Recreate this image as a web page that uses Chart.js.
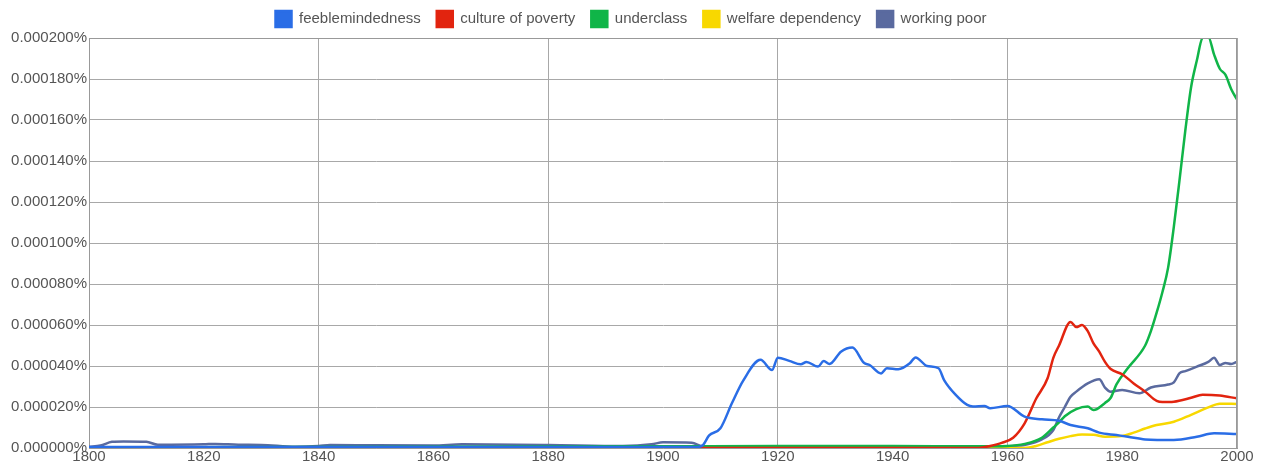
<!DOCTYPE html>
<html>
<head>
<meta charset="utf-8">
<script src="https://cdn.jsdelivr.net/npm/chart.js@4"></script>
<style>
    html, body { margin: 0; padding: 0; background: #fff; }
    #wrap { width: 1262px; height: 463px; }
</style>
</head>
<body>
<div id="wrap"><canvas id="ngramChart" width="1262" height="463"></canvas></div>
<script>
// values are in units of 0.000001 %
const feebleYears  = [1800, 1850, 1900, 1906, 1907, 1908, 1910, 1912, 1914, 1917, 1919, 1920, 1922, 1924, 1925, 1927, 1928, 1929, 1931, 1933, 1935, 1936, 1938, 1939, 1941, 1943, 1944, 1946, 1948, 1949, 1951, 1953, 1954, 1956, 1957, 1960, 1963, 1966, 1969, 1971, 1974, 1976, 1979, 1981, 1984, 1989, 1993, 1996, 2000];
const feebleValues = [0.5, 0.5, 0.5, 0.5, 1.5, 6, 9.6, 21.8, 33, 43, 38, 44, 42.5, 40.8, 42, 39.7, 42.4, 41, 47, 49, 41.6, 40.5, 36.4, 38.9, 38.4, 41.3, 44.2, 40, 38.9, 33, 25.9, 21, 20.2, 20.5, 19.4, 20.5, 15.3, 14, 13.3, 11.2, 9.6, 7.5, 6.3, 5.5, 4.2, 3.9, 5.5, 7.2, 6.8];

const povertyYears  = [1800, 1955, 1957, 1959, 1961, 1963, 1965, 1967, 1968, 1969, 1971, 1972, 1973, 1974, 1975, 1976, 1977, 1978, 1980, 1982, 1984, 1986, 1987, 1989, 1992, 1994, 1997, 2000];
const povertyValues = [0, 0, 1, 2.5, 5, 12, 24, 34, 44, 50, 61.5, 59, 60, 57, 51, 47, 42, 38.5, 36, 31.5, 27.5, 23, 22.4, 22.6, 24.5, 26, 25.6, 24.2];

const underclassYears  = [1800, 1900, 1920, 1940, 1955, 1960, 1963, 1966, 1968, 1969, 1970, 1972, 1974, 1975, 1977, 1978, 1979, 1981, 1984, 1985, 1986, 1987, 1988, 1989, 1990, 1991, 1992, 1993, 1994, 1995, 1996, 1997, 1998, 1999, 2000];
const underclassValues = [0.3, 0.8, 1, 1, 0.8, 1, 2, 5, 10, 12.5, 15.5, 19, 20.2, 18.5, 22, 24.5, 31, 39, 50, 57, 66, 76, 88, 108, 131, 155, 176, 189, 200, 200.5, 192, 185, 182, 175, 170];

const welfareYears  = [1800, 1963, 1965, 1967, 1969, 1971, 1973, 1975, 1977, 1980, 1982, 1984, 1986, 1989, 1992, 1995, 1997, 2000];
const welfareValues = [0, 0, 1, 2.8, 4.5, 5.8, 6.6, 6.5, 5.5, 5.8, 7.5, 9.5, 11.2, 12.8, 16.2, 19.8, 21.6, 21.5];

const workingYears  = [1800, 1802, 1804, 1806, 1810, 1812, 1820, 1822, 1826, 1830, 1836, 1840, 1842, 1850, 1860, 1865, 1880, 1893, 1898, 1900, 1905, 1907, 1920, 1940, 1958, 1961, 1963, 1966, 1968, 1969, 1970, 1971, 1972, 1974, 1976, 1977, 1978, 1980, 1983, 1985, 1988, 1989, 1990, 1991, 1993, 1995, 1996, 1997, 1998, 1999, 2000];
const workingValues = [0.6, 1.2, 3, 3.2, 3, 1.6, 1.8, 2, 1.6, 1.5, 0.6, 1, 1.5, 1.3, 1.2, 1.8, 1.5, 1, 1.8, 2.8, 2.6, 0.8, 0.8, 0.8, 0.5, 1, 1.5, 4.2, 8.8, 15, 20, 25, 27.5, 31.5, 33.5, 29.5, 27.5, 28.3, 26.7, 29.5, 31, 32, 36.5, 37.5, 39.7, 42, 44, 40.5, 41.5, 41, 42.1];

const seriesNames = ['feeblemindedness', 'culture of poverty', 'underclass', 'welfare dependency', 'working poor'];
const seriesColors = ['#2a6de6', '#e2240f', '#10b548', '#f8d800', '#5a6a9f'];
const yTicks = [0, 20, 40, 60, 80, 100, 120, 140, 160, 180, 200];

const toPoints = (years, values) => years.map((yr, i) => ({ x: yr, y: values[i] }));

const allSeries = [
    toPoints(feebleYears, feebleValues),
    toPoints(povertyYears, povertyValues),
    toPoints(underclassYears, underclassValues),
    toPoints(welfareYears, welfareValues),
    toPoints(workingYears, workingValues)
];

const labelFont = { family: 'Liberation Sans, Arial, sans-serif', size: 15 };

// fixed height for the legend band, centred on the whole canvas
const legendBand = {
    id: 'legendBand',
    beforeInit(chart) {
        if (!chart.legend) return;
        const origFit = chart.legend.fit;
        chart.legend.fit = function () {
            origFit.call(this);
            this.height = 38;
        };
    },
    afterLayout(chart) {
        const lg = chart.legend;
        if (!lg) return;
        lg.left = 0;
        lg.right = chart.width;
        lg.width = chart.width;
        lg.top = -5;
        lg.bottom = 33;
    }
};

const ctx = document.getElementById('ngramChart').getContext('2d');
const ngramChart = new Chart(ctx, {
    type: 'line',
    data: {
        datasets: allSeries.map((pts, i) => ({
            label: seriesNames[i],
            data: pts,
            borderColor: seriesColors[i],
            backgroundColor: seriesColors[i],
            borderWidth: 2.5,
            pointRadius: 0,
            cubicInterpolationMode: 'monotone',
            fill: false
        }))
    },
    options: {
        responsive: false,
        animation: false,
        layout: { padding: { left: 0, right: 25, top: 0, bottom: 0 } },
        plugins: {
            legend: {
                position: 'top',
                align: 'center',
                labels: {
                    boxWidth: 16,
                    boxHeight: 16,
                    padding: 16,
                    color: '#555',
                    font: labelFont
                }
            },
            tooltip: { enabled: false }
        },
        scales: {
            x: {
                type: 'linear',
                min: 1800,
                max: 2000,
                afterFit(scale) { scale.height = 15; },
                ticks: {
                    stepSize: 20,
                    padding: 0,
                    maxRotation: 0,
                    color: '#555',
                    font: labelFont,
                    callback: (v) => String(v)
                },
                grid: {
                    drawTicks: false,
                    color: (c) => (c.tick && c.tick.value % 40 === 0 ? '#a8a8a8' : 'rgba(0,0,0,0)'),
                    lineWidth: 1
                },
                border: { display: true, color: '#999' }
            },
            y: {
                min: 0,
                max: 200,
                afterFit(scale) { scale.width = 89; },
                afterBuildTicks(scale) { scale.ticks = yTicks.map(v => ({ value: v })); },
                ticks: {
                    padding: 2,
                    color: '#555',
                    font: labelFont,
                    callback: (v) => (v / 1e6).toFixed(6) + '%'
                },
                grid: { drawTicks: false, color: '#a8a8a8', lineWidth: 1 },
                border: { display: true, color: '#999' }
            }
        }
    },
    plugins: [legendBand, {
        id: 'rightBorder',
        afterDraw(chart) {
            const a = chart.chartArea;
            const c = chart.ctx;
            c.save();
            c.strokeStyle = '#999';
            c.lineWidth = 1;
            c.beginPath();
            c.moveTo(a.left, a.top + 0.5);
            c.lineTo(a.right, a.top + 0.5);
            c.moveTo(a.right - 0.5, a.top);
            c.lineTo(a.right - 0.5, a.bottom);
            c.stroke();
            c.restore();
        }
    }]
});
</script>
</body>
</html>
